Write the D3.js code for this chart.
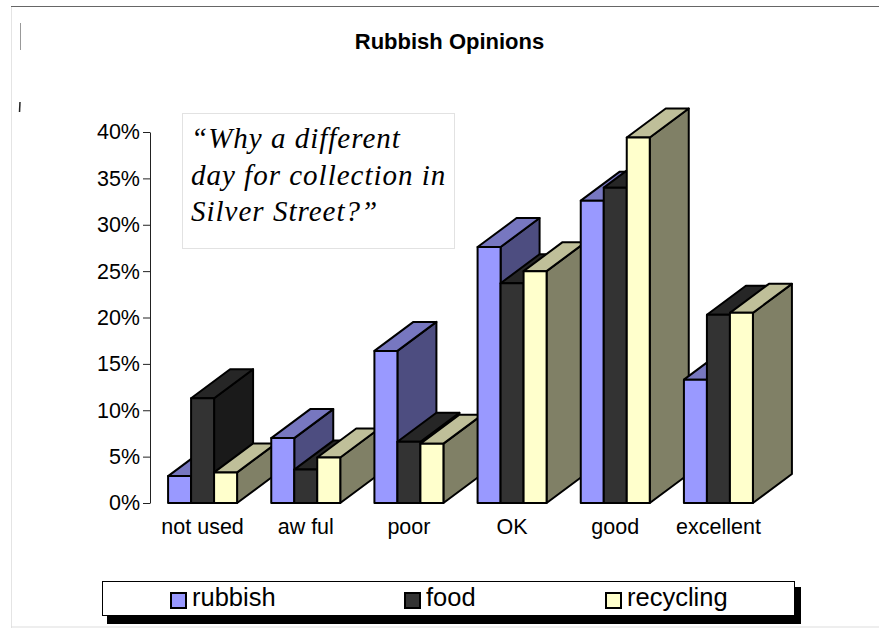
<!DOCTYPE html>
<html><head><meta charset="utf-8">
<script src="https://cdn.jsdelivr.net/npm/d3@7"></script>
<style>html,body{margin:0;padding:0;background:#fff}svg{display:block}text{font-family:"Liberation Sans",Arial,sans-serif;fill:#000}</style>
</head><body><svg id="c" width="879" height="628"></svg>
<script>
const categories = ["not used","aw ful","poor","OK","good","excellent"];
const seriesNames = ["rubbish","food","recycling"];
const rubbish = [2.9,7.0,16.4,27.6,32.6,13.3];
const food = [11.3,3.6,6.6,23.7,34.0,20.3];
const recycling = [3.3,4.9,6.4,25.0,39.4,20.5];
const yTicks = [0,5,10,15,20,25,30,35,40];
const quoteLines = ["“Why a different","day for collection in","Silver Street?”"];
const seriesValues = [rubbish,food,recycling];
const fills = [
  {front:"#9999FF",top:"#7777C0",side:"#4D4D80"},
  {front:"#333333",top:"#262626",side:"#1A1A1A"},
  {front:"#FFFFCC",top:"#BFBF99",side:"#808066"}];

const svg = d3.select("#c");
const depthX = 39, depthY = 29;
const y = d3.scaleLinear().domain([0,40]).range([503,132]);
const x0 = d3.scaleBand().domain(categories).range([151,770]);
const x1 = d3.scaleBand().domain(seriesNames).range([0,69]);

// page frame
svg.append("line").attr("x1",11).attr("x2",879).attr("y1",6.5).attr("y2",6.5).attr("stroke","#666").attr("stroke-width",1);
svg.append("line").attr("x1",11.5).attr("x2",11.5).attr("y1",7).attr("y2",628).attr("stroke","#e4e4e4");
svg.append("line").attr("x1",11).attr("x2",879).attr("y1",627).attr("y2",627).attr("stroke","#ddd");
svg.append("line").attr("x1",20.5).attr("x2",20.5).attr("y1",23).attr("y2",50).attr("stroke","#999");
svg.append("line").attr("x1",20).attr("x2",19.5).attr("y1",102).attr("y2",112).attr("stroke","#222").attr("stroke-width",1.5);

svg.append("text").attr("x",449.5).attr("y",49).attr("text-anchor","middle")
  .attr("font-size",22).attr("font-weight","bold").text("Rubbish Opinions");

// quote box
svg.append("rect").attr("x",182.5).attr("y",113.5).attr("width",272).attr("height",135)
  .attr("fill","#fff").attr("stroke","#e2e2e2");
svg.append("g").selectAll("text").data(quoteLines).join("text")
  .attr("x",191).attr("y",(d,i)=>148+i*36.5)
  .style("font-family","'Liberation Serif',serif").style("font-style","italic")
  .attr("font-size",29).attr("letter-spacing",1.0).text(d=>d);

// axes
const yAxis = svg.append("g").attr("transform","translate(150,0)")
  .call(d3.axisLeft(y).tickValues(yTicks).tickFormat(d=>d+"%").tickSize(7).tickSizeOuter(0));
yAxis.select(".domain").attr("stroke","#222");
yAxis.selectAll("line").attr("stroke","#222");
yAxis.selectAll("text").attr("font-size",21.5).attr("fill","#000").attr("x",-10).style("font-family","'Liberation Sans',sans-serif");

const xAxis = svg.append("g").attr("transform","translate(0,503)")
  .call(d3.axisBottom(x0).tickSize(0));
xAxis.select(".domain").remove();
xAxis.selectAll("text").attr("font-size",21.5).attr("fill","#000").attr("y",16).style("font-family","'Liberation Sans',sans-serif");

// 3D bars: left-to-right groups, each series front, top and side
const line = d3.line();
categories.forEach((cat,ci)=>{
  const g = svg.append("g");
  const gx = x0(cat)+x0.bandwidth()/2-x1.range()[1]/2;
  seriesNames.forEach((s,si)=>{
    const l = gx+x1(s), r = l+x1.bandwidth(), t = y(seriesValues[si][ci]), b = y(0);
    const st = {stroke:"#000","stroke-width":2,"stroke-linejoin":"round"};
    const add = (pts,fill)=>{const p=g.append("path").attr("d",line(pts)+"Z").attr("fill",fill);
      Object.entries(st).forEach(([k,v])=>p.attr(k,v));};
    add([[r,t],[r+depthX,t-depthY],[r+depthX,b-depthY],[r,b]],fills[si].side);
    add([[l,t],[l+depthX,t-depthY],[r+depthX,t-depthY],[r,t]],fills[si].top);
    add([[l,t],[r,t],[r,b],[l,b]],fills[si].front);
  });
});

// legend
svg.append("rect").attr("x",107).attr("y",587).attr("width",694).attr("height",37).attr("fill","#000");
svg.append("rect").attr("x",102.5).attr("y",581.5).attr("width",692).attr("height",34).attr("fill","#fff").attr("stroke","#000");
const legX = d3.scaleOrdinal().domain(seriesNames).range([171,405,606]);
const leg = svg.append("g").selectAll("g").data(seriesNames).join("g")
  .attr("transform",d=>`translate(${legX(d)},0)`);
leg.append("rect").attr("x",0).attr("y",593).attr("width",15).attr("height",15)
  .attr("fill",(d,i)=>fills[i].front).attr("stroke","#000").attr("stroke-width",2);
leg.append("text").attr("x",21).attr("y",606).attr("font-size",25.5).text(d=>d);
</script></body></html>
